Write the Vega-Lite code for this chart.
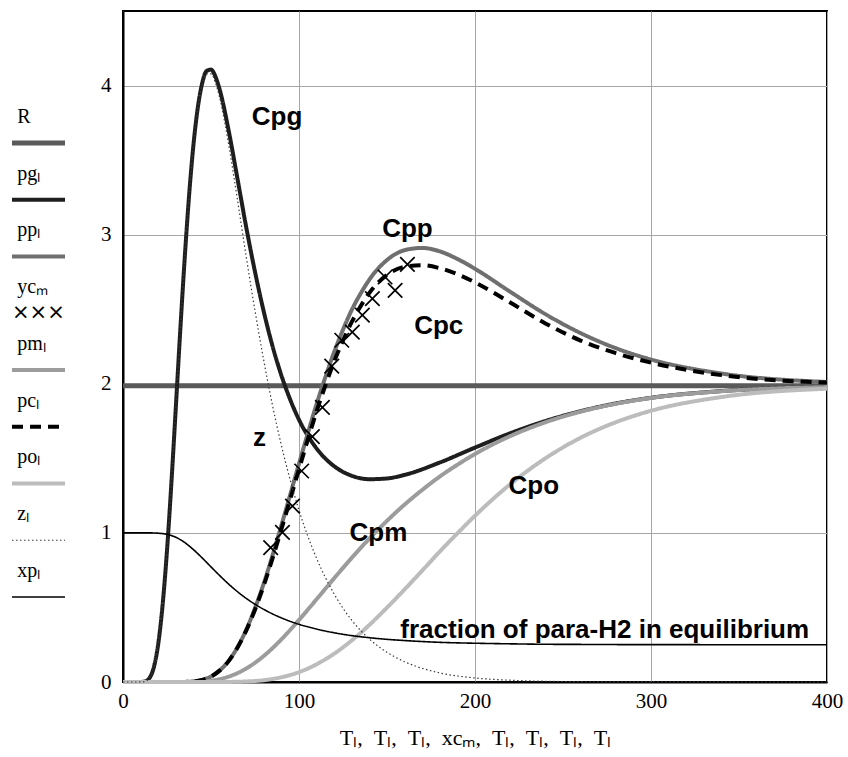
{
  "$schema": "https://vega.github.io/schema/vega-lite/v6.json",
  "padding": {"left": 9, "top": 10, "right": 18, "bottom": 2},
  "background": "white",
  "config": {
    "concat": {"spacing": 31}
  },
  "datasets": {
    "lines": [
      {"s": "R", "T": 0, "v": 1.987}, {"s": "R", "T": 400, "v": 1.987},
      {"s": "pg", "T": 0, "v": 0}, {"s": "pg", "T": 5, "v": 0}, {"s": "pg", "T": 10, "v": 0.0002}, {"s": "pg", "T": 12.5, "v": 0.004}, {"s": "pg", "T": 15, "v": 0.026}, {"s": "pg", "T": 17.5, "v": 0.098}, {"s": "pg", "T": 20, "v": 0.254}, {"s": "pg", "T": 22.5, "v": 0.516}, {"s": "pg", "T": 25, "v": 0.882}, {"s": "pg", "T": 27.5, "v": 1.336}, {"s": "pg", "T": 30, "v": 1.839}, {"s": "pg", "T": 32.5, "v": 2.351}, {"s": "pg", "T": 35, "v": 2.831}, {"s": "pg", "T": 37.5, "v": 3.255}, {"s": "pg", "T": 40, "v": 3.599}, {"s": "pg", "T": 42.5, "v": 3.852}, {"s": "pg", "T": 45, "v": 4.016}, {"s": "pg", "T": 47.5, "v": 4.098}, {"s": "pg", "T": 50, "v": 4.107}, {"s": "pg", "T": 52.5, "v": 4.061}, {"s": "pg", "T": 55, "v": 3.97}, {"s": "pg", "T": 60, "v": 3.7}, {"s": "pg", "T": 65, "v": 3.378}, {"s": "pg", "T": 70, "v": 3.051}, {"s": "pg", "T": 75, "v": 2.751}, {"s": "pg", "T": 80, "v": 2.483}, {"s": "pg", "T": 85, "v": 2.251}, {"s": "pg", "T": 90, "v": 2.056}, {"s": "pg", "T": 95, "v": 1.894}, {"s": "pg", "T": 100, "v": 1.759}, {"s": "pg", "T": 110, "v": 1.566}, {"s": "pg", "T": 120, "v": 1.447}, {"s": "pg", "T": 130, "v": 1.383}, {"s": "pg", "T": 140, "v": 1.36}, {"s": "pg", "T": 150, "v": 1.365}, {"s": "pg", "T": 160, "v": 1.389}, {"s": "pg", "T": 180, "v": 1.472}, {"s": "pg", "T": 200, "v": 1.572}, {"s": "pg", "T": 220, "v": 1.668}, {"s": "pg", "T": 240, "v": 1.75}, {"s": "pg", "T": 260, "v": 1.816}, {"s": "pg", "T": 280, "v": 1.868}, {"s": "pg", "T": 300, "v": 1.906}, {"s": "pg", "T": 340, "v": 1.951}, {"s": "pg", "T": 400, "v": 1.978},
      {"s": "pp", "T": 0, "v": 0}, {"s": "pp", "T": 30, "v": 0}, {"s": "pp", "T": 35, "v": 0.0004}, {"s": "pp", "T": 40, "v": 0.0045}, {"s": "pp", "T": 45, "v": 0.0147}, {"s": "pp", "T": 50, "v": 0.037}, {"s": "pp", "T": 55, "v": 0.078}, {"s": "pp", "T": 60, "v": 0.141}, {"s": "pp", "T": 65, "v": 0.232}, {"s": "pp", "T": 70, "v": 0.35}, {"s": "pp", "T": 75, "v": 0.495}, {"s": "pp", "T": 80, "v": 0.662}, {"s": "pp", "T": 85, "v": 0.85}, {"s": "pp", "T": 90, "v": 1.05}, {"s": "pp", "T": 95, "v": 1.256}, {"s": "pp", "T": 100, "v": 1.464}, {"s": "pp", "T": 105, "v": 1.667}, {"s": "pp", "T": 110, "v": 1.864}, {"s": "pp", "T": 115, "v": 2.045}, {"s": "pp", "T": 120, "v": 2.213}, {"s": "pp", "T": 125, "v": 2.363}, {"s": "pp", "T": 130, "v": 2.496}, {"s": "pp", "T": 135, "v": 2.605}, {"s": "pp", "T": 140, "v": 2.699}, {"s": "pp", "T": 150, "v": 2.83}, {"s": "pp", "T": 160, "v": 2.896}, {"s": "pp", "T": 170, "v": 2.911}, {"s": "pp", "T": 180, "v": 2.888}, {"s": "pp", "T": 190, "v": 2.837}, {"s": "pp", "T": 200, "v": 2.771}, {"s": "pp", "T": 220, "v": 2.617}, {"s": "pp", "T": 240, "v": 2.467}, {"s": "pp", "T": 260, "v": 2.34}, {"s": "pp", "T": 280, "v": 2.239}, {"s": "pp", "T": 300, "v": 2.163}, {"s": "pp", "T": 340, "v": 2.069}, {"s": "pp", "T": 400, "v": 2.012},
      {"s": "pm", "T": 0, "v": 0}, {"s": "pm", "T": 30, "v": 0}, {"s": "pm", "T": 40, "v": 0.001}, {"s": "pm", "T": 50, "v": 0.009}, {"s": "pm", "T": 60, "v": 0.036}, {"s": "pm", "T": 70, "v": 0.09}, {"s": "pm", "T": 80, "v": 0.175}, {"s": "pm", "T": 90, "v": 0.286}, {"s": "pm", "T": 100, "v": 0.416}, {"s": "pm", "T": 110, "v": 0.555}, {"s": "pm", "T": 120, "v": 0.696}, {"s": "pm", "T": 130, "v": 0.833}, {"s": "pm", "T": 140, "v": 0.962}, {"s": "pm", "T": 150, "v": 1.081}, {"s": "pm", "T": 160, "v": 1.19}, {"s": "pm", "T": 170, "v": 1.288}, {"s": "pm", "T": 180, "v": 1.378}, {"s": "pm", "T": 190, "v": 1.457}, {"s": "pm", "T": 200, "v": 1.529}, {"s": "pm", "T": 220, "v": 1.649}, {"s": "pm", "T": 240, "v": 1.742}, {"s": "pm", "T": 260, "v": 1.813}, {"s": "pm", "T": 280, "v": 1.866}, {"s": "pm", "T": 300, "v": 1.905}, {"s": "pm", "T": 340, "v": 1.95}, {"s": "pm", "T": 400, "v": 1.978},
      {"s": "pc", "T": 0, "v": 0}, {"s": "pc", "T": 30, "v": 0}, {"s": "pc", "T": 35, "v": 0.0004}, {"s": "pc", "T": 40, "v": 0.0045}, {"s": "pc", "T": 45, "v": 0.0147}, {"s": "pc", "T": 50, "v": 0.037}, {"s": "pc", "T": 55, "v": 0.078}, {"s": "pc", "T": 60, "v": 0.14}, {"s": "pc", "T": 65, "v": 0.23}, {"s": "pc", "T": 70, "v": 0.345}, {"s": "pc", "T": 75, "v": 0.485}, {"s": "pc", "T": 80, "v": 0.648}, {"s": "pc", "T": 85, "v": 0.83}, {"s": "pc", "T": 90, "v": 1.025}, {"s": "pc", "T": 95, "v": 1.225}, {"s": "pc", "T": 100, "v": 1.427}, {"s": "pc", "T": 105, "v": 1.625}, {"s": "pc", "T": 110, "v": 1.815}, {"s": "pc", "T": 115, "v": 1.99}, {"s": "pc", "T": 120, "v": 2.15}, {"s": "pc", "T": 125, "v": 2.29}, {"s": "pc", "T": 130, "v": 2.415}, {"s": "pc", "T": 135, "v": 2.52}, {"s": "pc", "T": 140, "v": 2.61}, {"s": "pc", "T": 150, "v": 2.73}, {"s": "pc", "T": 160, "v": 2.785}, {"s": "pc", "T": 170, "v": 2.795}, {"s": "pc", "T": 180, "v": 2.775}, {"s": "pc", "T": 190, "v": 2.735}, {"s": "pc", "T": 200, "v": 2.68}, {"s": "pc", "T": 220, "v": 2.545}, {"s": "pc", "T": 240, "v": 2.405}, {"s": "pc", "T": 260, "v": 2.29}, {"s": "pc", "T": 280, "v": 2.205}, {"s": "pc", "T": 300, "v": 2.142}, {"s": "pc", "T": 340, "v": 2.058}, {"s": "pc", "T": 400, "v": 2.008},
      {"s": "po", "T": 0, "v": 0}, {"s": "po", "T": 50, "v": 0}, {"s": "po", "T": 60, "v": 0.0006}, {"s": "po", "T": 70, "v": 0.0035}, {"s": "po", "T": 80, "v": 0.012}, {"s": "po", "T": 90, "v": 0.032}, {"s": "po", "T": 100, "v": 0.066}, {"s": "po", "T": 110, "v": 0.119}, {"s": "po", "T": 120, "v": 0.19}, {"s": "po", "T": 130, "v": 0.279}, {"s": "po", "T": 140, "v": 0.383}, {"s": "po", "T": 150, "v": 0.499}, {"s": "po", "T": 160, "v": 0.621}, {"s": "po", "T": 170, "v": 0.747}, {"s": "po", "T": 180, "v": 0.875}, {"s": "po", "T": 190, "v": 0.997}, {"s": "po", "T": 200, "v": 1.115}, {"s": "po", "T": 220, "v": 1.326}, {"s": "po", "T": 240, "v": 1.5}, {"s": "po", "T": 260, "v": 1.638}, {"s": "po", "T": 280, "v": 1.742}, {"s": "po", "T": 300, "v": 1.819}, {"s": "po", "T": 340, "v": 1.911}, {"s": "po", "T": 400, "v": 1.967},
      {"s": "z", "T": 0, "v": 0}, {"s": "z", "T": 5, "v": 0}, {"s": "z", "T": 10, "v": 0.0002}, {"s": "z", "T": 12.5, "v": 0.004}, {"s": "z", "T": 15, "v": 0.026}, {"s": "z", "T": 17.5, "v": 0.098}, {"s": "z", "T": 20, "v": 0.254}, {"s": "z", "T": 22.5, "v": 0.516}, {"s": "z", "T": 25, "v": 0.882}, {"s": "z", "T": 27.5, "v": 1.336}, {"s": "z", "T": 30, "v": 1.839}, {"s": "z", "T": 32.5, "v": 2.351}, {"s": "z", "T": 35, "v": 2.831}, {"s": "z", "T": 37.5, "v": 3.255}, {"s": "z", "T": 40, "v": 3.595}, {"s": "z", "T": 42.5, "v": 3.847}, {"s": "z", "T": 45, "v": 4.004}, {"s": "z", "T": 47.5, "v": 4.079}, {"s": "z", "T": 50, "v": 4.078}, {"s": "z", "T": 52.5, "v": 4.02}, {"s": "z", "T": 55, "v": 3.915}, {"s": "z", "T": 60, "v": 3.607}, {"s": "z", "T": 65, "v": 3.237}, {"s": "z", "T": 70, "v": 2.853}, {"s": "z", "T": 75, "v": 2.49}, {"s": "z", "T": 80, "v": 2.155}, {"s": "z", "T": 85, "v": 1.852}, {"s": "z", "T": 90, "v": 1.587}, {"s": "z", "T": 95, "v": 1.355}, {"s": "z", "T": 100, "v": 1.152}, {"s": "z", "T": 110, "v": 0.829}, {"s": "z", "T": 120, "v": 0.59}, {"s": "z", "T": 130, "v": 0.414}, {"s": "z", "T": 140, "v": 0.288}, {"s": "z", "T": 150, "v": 0.199}, {"s": "z", "T": 160, "v": 0.136}, {"s": "z", "T": 180, "v": 0.061}, {"s": "z", "T": 200, "v": 0.027}, {"s": "z", "T": 220, "v": 0.012}, {"s": "z", "T": 240, "v": 0.005}, {"s": "z", "T": 260, "v": 0.002}, {"s": "z", "T": 300, "v": 0.0005}, {"s": "z", "T": 400, "v": 0},
      {"s": "xp", "T": 0, "v": 1}, {"s": "xp", "T": 10, "v": 1}, {"s": "xp", "T": 15, "v": 1}, {"s": "xp", "T": 17.5, "v": 0.9995}, {"s": "xp", "T": 20, "v": 0.998}, {"s": "xp", "T": 25, "v": 0.99}, {"s": "xp", "T": 30, "v": 0.971}, {"s": "xp", "T": 35, "v": 0.936}, {"s": "xp", "T": 40, "v": 0.888}, {"s": "xp", "T": 45, "v": 0.832}, {"s": "xp", "T": 50, "v": 0.772}, {"s": "xp", "T": 55, "v": 0.713}, {"s": "xp", "T": 60, "v": 0.657}, {"s": "xp", "T": 70, "v": 0.561}, {"s": "xp", "T": 80, "v": 0.487}, {"s": "xp", "T": 90, "v": 0.43}, {"s": "xp", "T": 100, "v": 0.387}, {"s": "xp", "T": 110, "v": 0.355}, {"s": "xp", "T": 120, "v": 0.33}, {"s": "xp", "T": 130, "v": 0.311}, {"s": "xp", "T": 140, "v": 0.297}, {"s": "xp", "T": 150, "v": 0.286}, {"s": "xp", "T": 160, "v": 0.278}, {"s": "xp", "T": 180, "v": 0.266}, {"s": "xp", "T": 200, "v": 0.26}, {"s": "xp", "T": 220, "v": 0.256}, {"s": "xp", "T": 240, "v": 0.253}, {"s": "xp", "T": 260, "v": 0.252}, {"s": "xp", "T": 280, "v": 0.251}, {"s": "xp", "T": 300, "v": 0.2507}, {"s": "xp", "T": 340, "v": 0.2502}, {"s": "xp", "T": 400, "v": 0.25}
    ],
    "crosses": [
      {"T": 83.9, "v": 0.901}, {"T": 90.6, "v": 1.004}, {"T": 96.3, "v": 1.18}, {"T": 101.5, "v": 1.415}, {"T": 107.6, "v": 1.645}, {"T": 113.3, "v": 1.842}, {"T": 118.6, "v": 2.119}, {"T": 124.3, "v": 2.292}, {"T": 130.3, "v": 2.347}, {"T": 136.0, "v": 2.461}, {"T": 141.7, "v": 2.571}, {"T": 148.9, "v": 2.716}, {"T": 154.6, "v": 2.627}, {"T": 161.6, "v": 2.801}
    ],
    "labels": [
      {"text": "Cpg", "T": 87.5, "v": 3.736},
      {"text": "Cpp", "T": 161.6, "v": 2.981},
      {"text": "Cpc", "T": 179.4, "v": 2.334},
      {"text": "z", "T": 77.5, "v": 1.583},
      {"text": "Cpm", "T": 145.1, "v": 0.946},
      {"text": "Cpo", "T": 233.4, "v": 1.261},
      {"text": "fraction of para-H2 in equilibrium", "T": 273.7, "v": 0.297}
    ],
    "legend": [
      {"s": "R", "label": "R", "k": 0},
      {"s": "pg", "label": "pgₗ", "k": 1},
      {"s": "pp", "label": "ppₗ", "k": 2},
      {"s": "yc", "label": "ycₘ", "k": 3},
      {"s": "pm", "label": "pmₗ", "k": 4},
      {"s": "pc", "label": "pcₗ", "k": 5},
      {"s": "po", "label": "poₗ", "k": 6},
      {"s": "z", "label": "zₗ", "k": 7},
      {"s": "xp", "label": "xpₗ", "k": 8}
    ]
  },
  "hconcat": [
    {
      "width": 53,
      "height": 671,
      "view": {"stroke": null},
      "data": {"name": "legend"},
      "encoding": {
        "y": {"field": "k", "type": "quantitative", "scale": {"domain": [-2.326, 9.498], "reverse": true, "nice": false, "zero": false}, "axis": null}
      },
      "layer": [
        {
          "transform": [{"filter": "datum.s !== 'yc'"}],
          "mark": {"type": "rule"},
          "encoding": {
            "x": {"datum": 0, "type": "quantitative", "scale": {"domain": [0, 1], "nice": false}, "axis": null},
            "x2": {"datum": 1},
            "color": {"field": "s", "type": "nominal", "scale": {"domain": ["R", "pg", "pp", "pm", "pc", "po", "z", "xp"], "range": ["#5a5a5a", "#1e1e1e", "#6f6f6f", "#9c9c9c", "#000000", "#bcbcbc", "#3a3a3a", "#000000"]}, "legend": null},
            "strokeDash": {"field": "s", "type": "nominal", "scale": {"domain": ["R", "pg", "pp", "pm", "pc", "po", "z", "xp"], "range": [[1, 0], [1, 0], [1, 0], [1, 0], [11, 7], [1, 0], [1.5, 2.5], [1, 0]]}, "legend": null},
            "strokeWidth": {"field": "s", "type": "nominal", "scale": {"type": "ordinal", "domain": ["R", "pg", "pp", "pm", "pc", "po", "z", "xp"], "range": [5, 4, 4, 4, 4, 4, 1.2, 1.6]}, "legend": null}
          }
        },
        {
          "mark": {"type": "text", "align": "left", "baseline": "alphabetic", "dy": -20, "font": "Liberation Serif", "fontSize": 20, "color": "black"},
          "encoding": {
            "x": {"datum": 0.1, "type": "quantitative"},
            "text": {"field": "label"}
          }
        },
        {
          "transform": [{"filter": "datum.s === 'yc'"}],
          "mark": {"type": "text", "align": "left", "baseline": "middle", "font": "DejaVu Sans", "fontSize": 21, "color": "black"},
          "encoding": {
            "x": {"datum": 0, "type": "quantitative"},
            "text": {"value": "×××"}
          }
        }
      ]
    },
    {
      "width": 704,
      "height": 671,
      "view": {"stroke": "black", "strokeWidth": 2},
      "layer": [
        {
          "data": {"name": "lines"},
          "mark": {"type": "line", "interpolate": "monotone"},
          "encoding": {
            "x": {"field": "T", "type": "quantitative", "scale": {"domain": [0, 400], "nice": false},
              "axis": {"values": [0, 100, 200, 300, 400], "format": "d", "grid": true, "gridColor": "#a6a6a6", "gridWidth": 1, "ticks": false, "domainColor": "black", "domainWidth": 2, "labelFont": "Liberation Serif", "labelFontSize": 21, "labelColor": "black", "labelPadding": 8, "labelFlush": false, "title": "Tₗ, \u00a0Tₗ, \u00a0Tₗ, \u00a0xcₘ, \u00a0Tₗ, \u00a0Tₗ, \u00a0Tₗ, \u00a0Tₗ", "titleFont": "Liberation Serif", "titleFontSize": 22, "titleFontWeight": "normal", "titleColor": "black", "titlePadding": 16}},
            "y": {"field": "v", "type": "quantitative", "scale": {"domain": [0, 4.5], "nice": false},
              "axis": {"values": [0, 1, 2, 3, 4], "format": "d", "grid": true, "gridColor": "#a6a6a6", "gridWidth": 1, "ticks": false, "domainColor": "black", "domainWidth": 2, "labelFont": "Liberation Serif", "labelFontSize": 21, "labelColor": "black", "labelPadding": 12, "title": null}},
            "color": {"field": "s", "type": "nominal", "scale": {"domain": ["R", "pg", "pp", "pm", "pc", "po", "z", "xp"], "range": ["#5a5a5a", "#1e1e1e", "#6f6f6f", "#9c9c9c", "#000000", "#bcbcbc", "#3a3a3a", "#000000"]}, "legend": null},
            "strokeDash": {"field": "s", "type": "nominal", "scale": {"domain": ["R", "pg", "pp", "pm", "pc", "po", "z", "xp"], "range": [[1, 0], [1, 0], [1, 0], [1, 0], [11, 7], [1, 0], [1.5, 2.5], [1, 0]]}, "legend": null},
            "strokeWidth": {"field": "s", "type": "nominal", "scale": {"type": "ordinal", "domain": ["R", "pg", "pp", "pm", "pc", "po", "z", "xp"], "range": [5, 4, 4, 4, 4, 4, 1.2, 1.6]}, "legend": null}
          }
        },
        {
          "data": {"name": "crosses"},
          "mark": {"type": "point", "shape": "M-1,-1L1,1M-1,1L1,-1", "size": 210, "filled": false, "stroke": "black", "strokeWidth": 1.7, "opacity": 1},
          "encoding": {
            "x": {"field": "T", "type": "quantitative"},
            "y": {"field": "v", "type": "quantitative"}
          }
        },
        {
          "data": {"name": "labels"},
          "mark": {"type": "text", "font": "Liberation Sans", "fontWeight": "bold", "fontSize": 26, "align": "center", "baseline": "alphabetic", "color": "black"},
          "encoding": {
            "x": {"field": "T", "type": "quantitative"},
            "y": {"field": "v", "type": "quantitative"},
            "text": {"field": "text"}
          }
        }
      ]
    }
  ]
}
